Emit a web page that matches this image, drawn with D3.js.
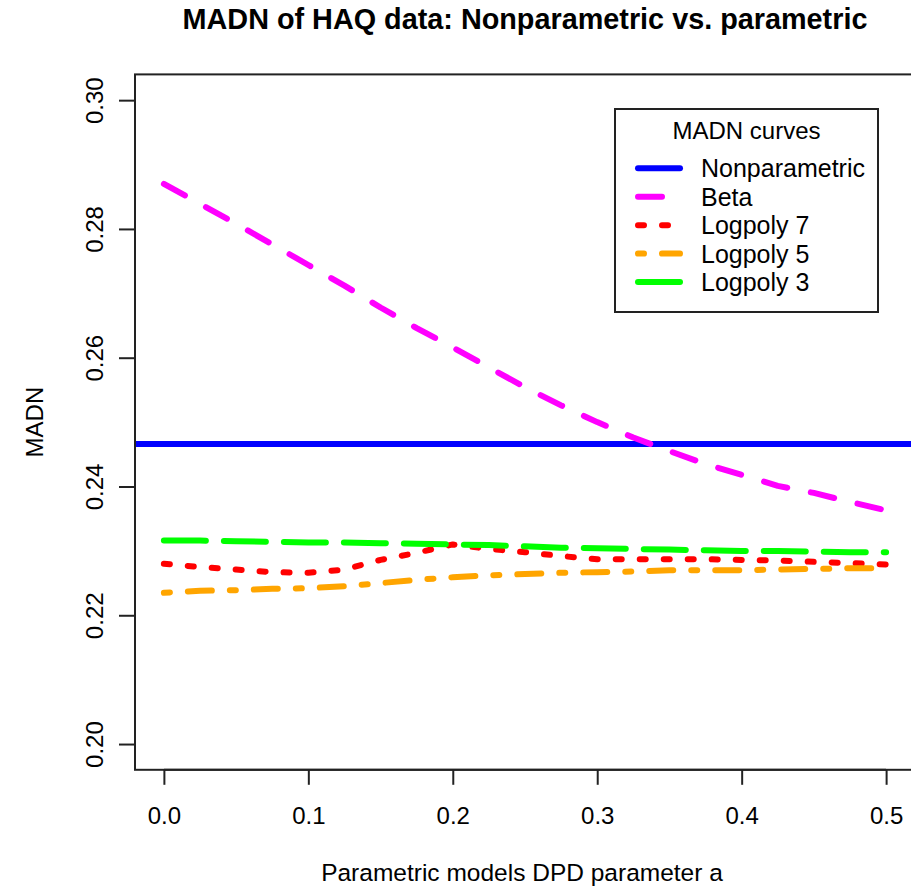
<!DOCTYPE html>
<html>
<head>
<meta charset="utf-8">
<script src="https://cdn.jsdelivr.net/npm/d3@7"></script>
<style>
  html, body { margin: 0; padding: 0; background: #ffffff; }
  svg { display: block; font-family: "Liberation Sans", Arial, sans-serif; }
</style>
</head>
<body>
<svg id="chart" width="911" height="887"></svg>
<script>
// DPD parameter a grid
const aValues = [0, 0.025, 0.05, 0.075, 0.1, 0.125, 0.15, 0.175, 0.2, 0.225, 0.25,
                 0.275, 0.3, 0.325, 0.35, 0.375, 0.4, 0.425, 0.45, 0.475, 0.5];

// MADN values
const nonparametric = 0.2466;
const beta     = [0.2870, 0.2839, 0.2808, 0.2776, 0.2744, 0.2712, 0.2678, 0.2646, 0.2616, 0.2585, 0.2554,
                  0.2526, 0.2500, 0.2476, 0.2455, 0.2435, 0.2418, 0.2401, 0.2390, 0.2376, 0.2363];
const logpoly7 = [0.2280, 0.2275, 0.2271, 0.2267, 0.2266, 0.2271, 0.2286, 0.2297, 0.2310, 0.2303, 0.2298,
                  0.2292, 0.2287, 0.2287, 0.2287, 0.2287, 0.2286, 0.2285, 0.2283, 0.2281, 0.2279];
const logpoly5 = [0.2235, 0.2238, 0.2239, 0.2241, 0.2242, 0.2245, 0.2250, 0.2255, 0.2259, 0.2262, 0.2264,
                  0.2266, 0.2267, 0.2268, 0.2270, 0.2270, 0.2270, 0.2271, 0.2272, 0.2273, 0.2273];
const logpoly3 = [0.2316, 0.2316, 0.2315, 0.2314, 0.2313, 0.2313, 0.2312, 0.2311, 0.2310, 0.2309, 0.2307,
                  0.2305, 0.2304, 0.2303, 0.2302, 0.2301, 0.2300, 0.2300, 0.2299, 0.2298, 0.2298];

const xTicks = [0, 0.1, 0.2, 0.3, 0.4, 0.5];
const yTicks = [0.20, 0.22, 0.24, 0.26, 0.28, 0.30];

const seriesNames  = ["Nonparametric", "Beta", "Logpoly 7", "Logpoly 5", "Logpoly 3"];
const seriesColors = ["#0000ff", "#ff00ff", "#ff0000", "#ffa500", "#00ff00"];
const seriesDashes = [null, "24 24", "6 18", "6 18 24 18", "42 18"];

const svg = d3.select("#chart");
const plot = { left: 135, right: 915, top: 74.4, bottom: 769.8 };

const x = d3.scaleLinear().domain([-0.02, 0.52]).range([plot.left, plot.right]);
const y = d3.scaleLinear().domain([0.196, 0.304]).range([plot.bottom, plot.top]);

svg.append("defs").append("clipPath").attr("id", "plotClip")
  .append("rect")
  .attr("x", plot.left).attr("y", plot.top)
  .attr("width", plot.right - plot.left).attr("height", plot.bottom - plot.top);

const lw = 6;
const curves = svg.append("g").attr("clip-path", "url(#plotClip)");

// horizontal reference for the nonparametric estimate
curves.append("line")
  .attr("x1", x.range()[0]).attr("x2", x.range()[1])
  .attr("y1", y(nonparametric)).attr("y2", y(nonparametric))
  .attr("stroke", seriesColors[0]).attr("stroke-width", lw);

const line = d3.line().x((d, i) => x(aValues[i])).y(d => y(d));
[beta, logpoly7, logpoly5, logpoly3].forEach((vals, k) => {
  curves.append("path")
    .attr("d", line(vals))
    .attr("fill", "none")
    .attr("stroke", seriesColors[k + 1])
    .attr("stroke-width", lw)
    .attr("stroke-linecap", "round")
    .attr("stroke-linejoin", "round")
    .attr("stroke-dasharray", seriesDashes[k + 1]);
});

// axes
const axisColor = "#222";
const fontSize = 24;

const xAxis = d3.axisBottom(x).tickValues(xTicks).tickFormat(d3.format(".1f"))
  .tickSize(15).tickPadding(8);
const gx = svg.append("g").attr("transform", `translate(0,${plot.bottom})`).call(xAxis);
gx.select(".domain").remove();
gx.append("line").attr("x1", x(xTicks[0])).attr("x2", x(xTicks[xTicks.length - 1]))
  .attr("stroke", axisColor).attr("stroke-width", 2);
gx.selectAll(".tick line").attr("stroke", axisColor).attr("stroke-width", 2);
gx.selectAll(".tick text").attr("fill", "#000").attr("font-size", fontSize)
  .attr("font-family", "Liberation Sans, Arial, sans-serif")
  .attr("dy", null).attr("y", 54);

const yAxis = d3.axisLeft(y).tickValues(yTicks).tickFormat(d3.format(".2f"))
  .tickSize(16);
const gy = svg.append("g").attr("transform", `translate(${plot.left},0)`).call(yAxis);
gy.select(".domain").remove();
gy.selectAll(".tick line").attr("stroke", axisColor).attr("stroke-width", 2);
gy.selectAll(".tick text").remove();
gy.selectAll(".tick").append("text")
  .attr("transform", "translate(-32,0) rotate(-90)")
  .attr("text-anchor", "middle")
  .attr("fill", "#000")
  .attr("font-size", fontSize)
  .attr("font-family", "Liberation Sans, Arial, sans-serif")
  .text(d => d3.format(".2f")(d));

// plot frame
svg.append("rect")
  .attr("x", plot.left).attr("y", plot.top)
  .attr("width", plot.right - plot.left).attr("height", plot.bottom - plot.top)
  .attr("fill", "none").attr("stroke", axisColor).attr("stroke-width", 2);

// titles
const cx = (plot.left + plot.right) / 2;
svg.append("text").attr("x", cx).attr("y", 29)
  .attr("text-anchor", "middle").attr("font-weight", "bold").attr("font-size", 28.8)
  .attr("fill", "#000")
  .text("MADN of HAQ data: Nonparametric vs. parametric");

svg.append("text").attr("x", cx - 3).attr("y", 881)
  .attr("text-anchor", "middle").attr("font-size", 24.5).attr("fill", "#000")
  .text("Parametric models DPD parameter a");

svg.append("text")
  .attr("transform", `translate(43,${(plot.top + plot.bottom) / 2}) rotate(-90)`)
  .attr("text-anchor", "middle").attr("font-size", fontSize).attr("fill", "#000")
  .text("MADN");

// legend
const lg = { left: 615, top: 109, width: 263, height: 203 };
const legendFont = 25;
const legend = svg.append("g");
legend.append("rect")
  .attr("x", lg.left).attr("y", lg.top).attr("width", lg.width).attr("height", lg.height)
  .attr("fill", "#fff").attr("stroke", axisColor).attr("stroke-width", 2);
legend.append("text")
  .attr("x", lg.left + lg.width / 2).attr("y", 138.5)
  .attr("text-anchor", "middle").attr("font-size", fontSize).attr("fill", "#000")
  .text("MADN curves");

const rowY = d3.scaleLinear().domain([0, 4]).range([168.3, 282]);
seriesNames.forEach((name, i) => {
  const yy = rowY(i);
  legend.append("line")
    .attr("x1", 638).attr("x2", 680).attr("y1", yy).attr("y2", yy)
    .attr("stroke", seriesColors[i]).attr("stroke-width", lw)
    .attr("stroke-linecap", "round")
    .attr("stroke-dasharray", seriesDashes[i]);
  legend.append("text")
    .attr("x", 701).attr("y", yy).attr("dy", "0.36em")
    .attr("font-size", legendFont).attr("fill", "#000")
    .text(name);
});
</script>
</body>
</html>
